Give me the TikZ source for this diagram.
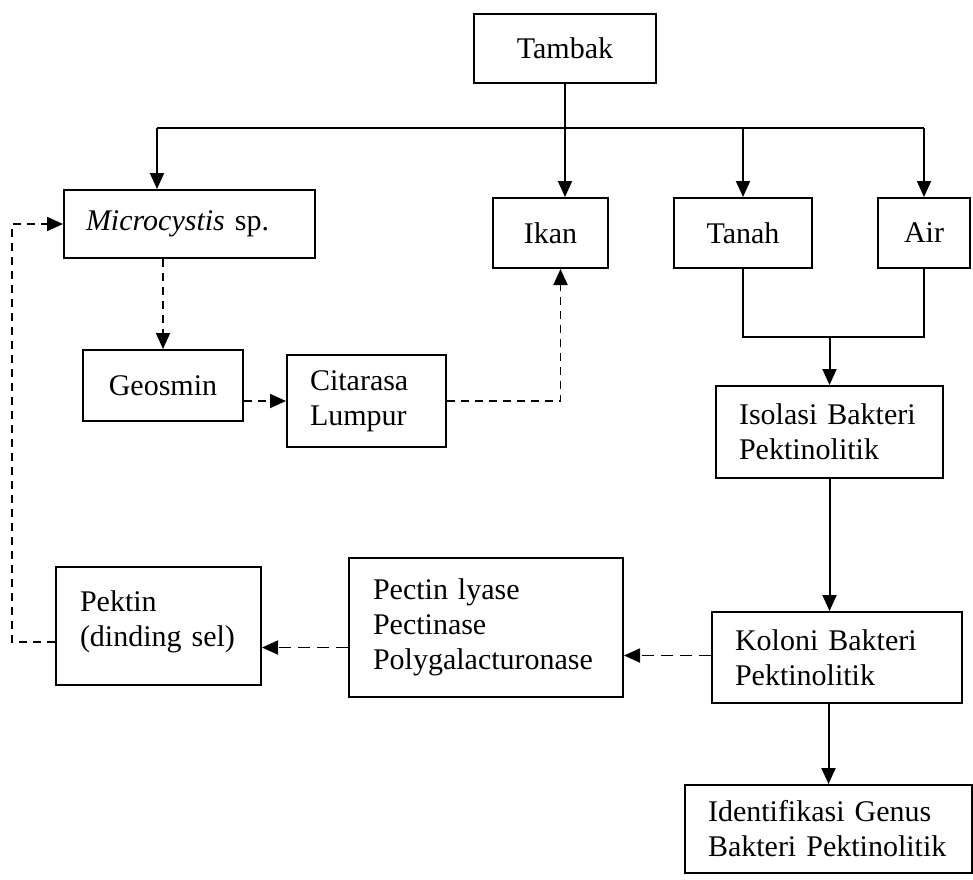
\documentclass[tikz,border=0pt]{standalone}
\usepackage{fontspec}
\setmainfont{Liberation Serif}
\usetikzlibrary{arrows.meta,positioning,calc}

\tikzset{
	kotak/.style={draw, line width=1pt, inner sep=0pt, font=\fontsize{15}{17.5}\selectfont},
	panah/.style={line width=1pt, -{Triangle[length=8pt,width=7pt]}},
	putus/.style={line width=0.9pt, dash pattern=on 4pt off 3pt, -{Triangle[length=8pt,width=7pt]}},
	putuspanjang/.style={putus, dash pattern=on 6pt off 3.5pt},
	garis/.style={line width=1pt}
}

\begin{document}
\begin{tikzpicture}[x=0.5pt,y=-0.5pt]
	\useasboundingbox (0,0) rectangle (973,879);
	% kotak-kotak
	\node (tambak) at (565,48.5)[kotak, minimum width=91pt, minimum height=34.5pt] {Tambak};
	\node (mic) at (189.5,224)[kotak, minimum width=125.5pt, minimum height=34pt, text width=103.5pt, align=left] {\textit{Microcystis} sp.};
	\node (ikan) at (550.5,233)[kotak, minimum width=57.5pt, minimum height=35pt] {Ikan};
	\node (tanah) at (743,233)[kotak, minimum width=69pt, minimum height=35pt] {Tanah};
	\node (air) at (924,233)[kotak, minimum width=46pt, minimum height=35pt] {Air};
	\node (geosmin) at (163,385.5)[kotak, minimum width=80pt, minimum height=35.5pt] {Geosmin};
	\node (citarasa) at (366.5,401)[kotak, minimum width=79.5pt, minimum height=46pt, text width=56.5pt, align=left] {Citarasa\\Lumpur};
	\node (isolasi) at (829.5,432)[kotak, minimum width=113.5pt, minimum height=46pt, text width=90.5pt, align=left] {Isolasi Bakteri\\Pektinolitik};
	\node (koloni) at (837,657.5)[kotak, minimum width=125pt, minimum height=45.5pt, text width=102pt, align=left] {Koloni Bakteri\\Pektinolitik};
	\node (ident) at (828.5,829)[kotak, minimum width=143.5pt, minimum height=44pt, text width=120.5pt, align=left] {Identifikasi Genus\\Bakteri Pektinolitik};
	\node (pektin) at (158.5,626)[kotak, minimum width=102.5pt, minimum height=59pt, text width=78.5pt, align=left] {Pektin\\(dinding sel)\\[-10pt]\mbox{}};
	\node (enzim) at (486,627.5)[kotak, minimum width=137pt, minimum height=69.5pt, text width=113pt, align=left] {Pectin lyase\\Pectinase\\Polygalacturonase};

	% percabangan dari tambak
	\coordinate (kiri) at (157,128);
	\draw[panah] (tambak.south) -- (tambak.south |- ikan.north);
	\draw[garis] (kiri) -- (air.north |- kiri);
	\draw[panah] (kiri) -- (kiri |- mic.north);
	\draw[panah] (tanah.north |- kiri) -- (tanah.north);
	\draw[panah] (air.north |- kiri) -- (air.north);

	% tanah dan air ke isolasi
	\coordinate (temu) at (829.5,337);
	\draw[garis] (tanah.south) |- (temu) -| (air.south);
	\draw[panah] (temu) -- (isolasi.north);
	\draw[panah] (isolasi.south) -- (isolasi.south |- koloni.north);
	\draw[panah] (ident.north |- koloni.south) -- (ident.north);

	% garis putus-putus
	\draw[putus] (geosmin.north |- mic.south) -- (geosmin.north);
	\draw[putus] (citarasa.west -| geosmin.east) -- (citarasa.west);
	\draw[putus] (citarasa.east) -| ([xshift=5pt]ikan.south);
	\draw[putuspanjang] ([yshift=1pt]koloni.west) -- ([yshift=1pt]koloni.west -| enzim.east);
	\draw[putuspanjang] ([yshift=-10pt]enzim.west) -- ([yshift=-10pt]enzim.west -| pektin.east);
	\coordinate (balik) at (12,0);
	\draw[putus] ([yshift=-8pt]pektin.west) -| (balik |- mic.west) -- (mic.west);
\end{tikzpicture}
\end{document}
